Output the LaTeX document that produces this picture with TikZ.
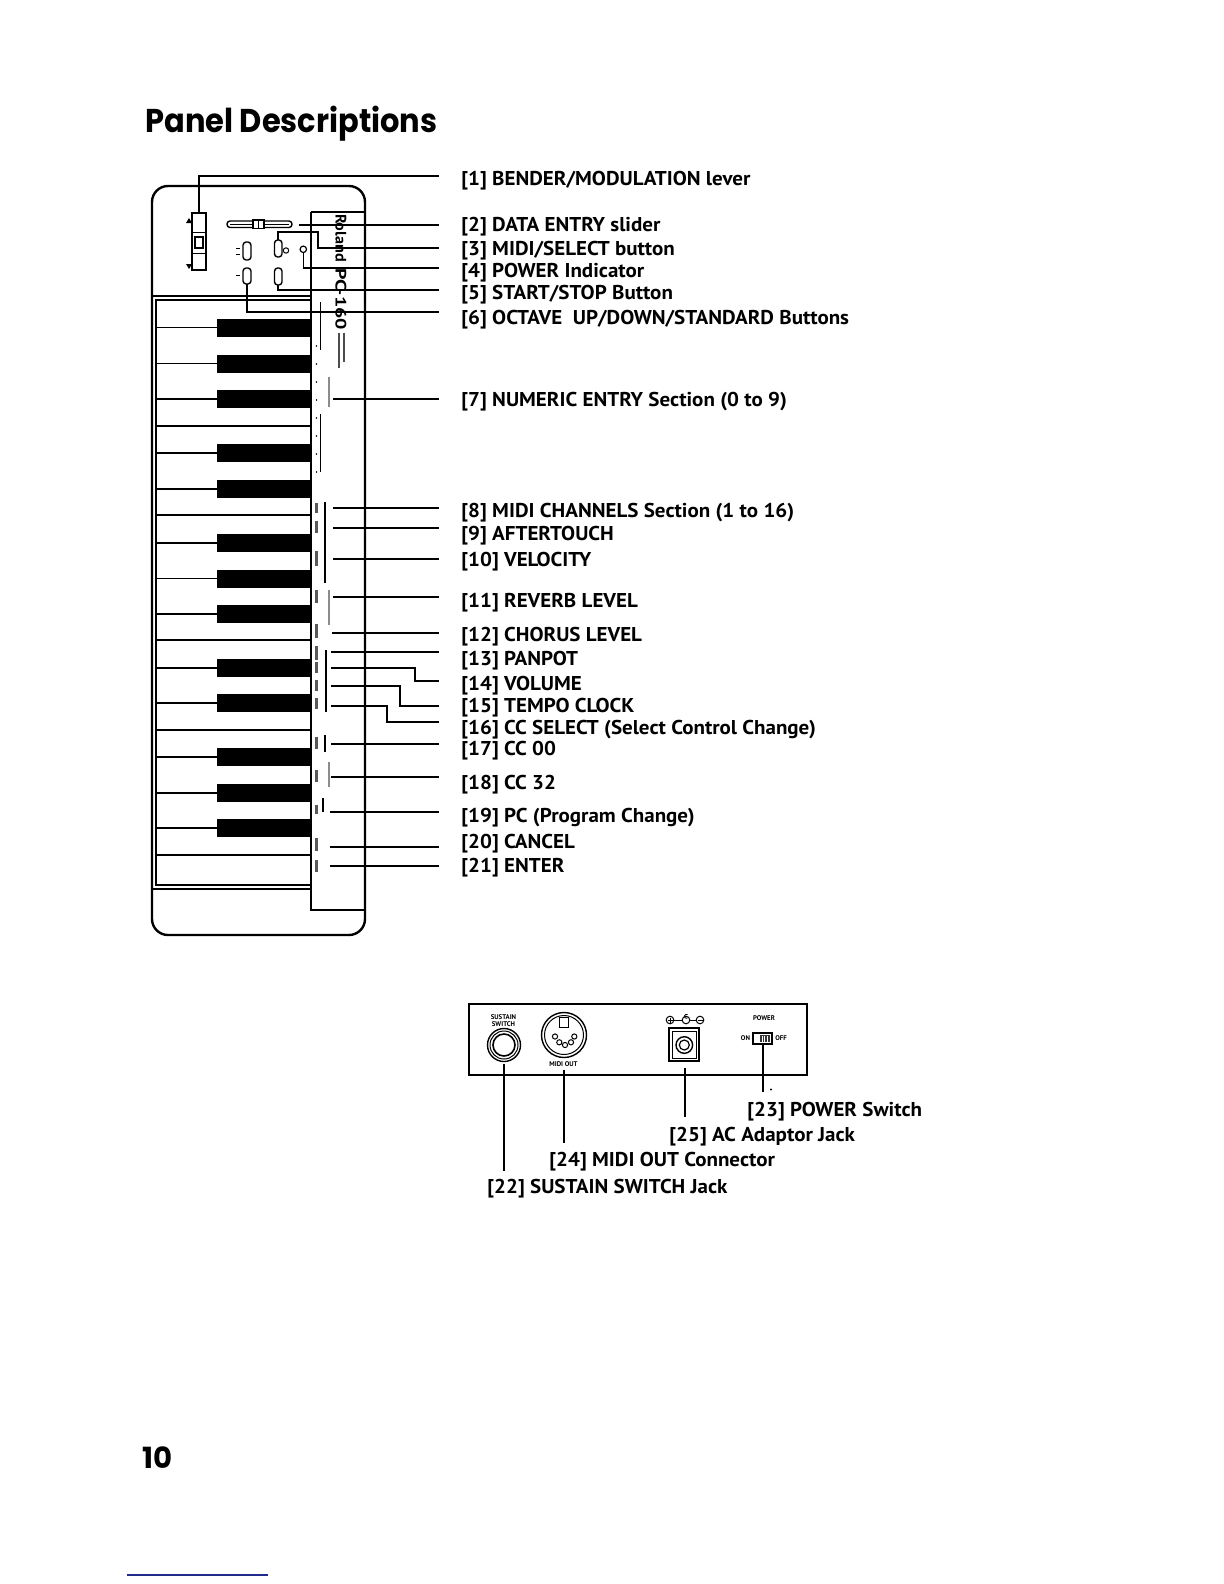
\documentclass[tikz,border=0pt]{standalone}
\usepackage{graphicx}
\usepackage{fontspec}
\setmainfont{PT Sans}
\newfontfamily\titlefont{Poppins}
\newcommand\lblfont{\bfseries\fontsize{10pt}{11pt}\selectfont}
\newcommand\lb[1]{\scalebox{1.05}[1]{\lblfont #1}}
\newcommand\tinyfont{\bfseries\fontsize{3.4pt}{4pt}\selectfont}
\definecolor{navy}{HTML}{1F2A8A}
\begin{document}
\begin{tikzpicture}[x=0.5pt,y=-0.5pt,line join=miter,
  lead/.style={line width=0.6pt},
  bodyline/.style={line width=1.2pt},
  thinline/.style={line width=0.7pt},
  lbl/.style={anchor=base west,inner sep=0pt},
  tiny/.style={inner sep=0pt,font=\tinyfont},
  bkey/.style={fill=black,draw=none},
  stripmark/.style={fill=black!65,draw=none},
  btn/.style={line width=0.7pt,rounded corners=1.6pt}]
\useasboundingbox (0,0) rectangle (1224,1584);
% title
\node[anchor=base west,inner sep=0pt] (title) at (145,133) {\resizebox{146pt}{13.2pt}{\titlefont\bfseries Panel Descriptions}};
% page number
\node[anchor=base west,inner sep=0pt] (pagenum) at (142,1468) {\resizebox{15pt}{!}{\titlefont\bfseries 10}};
\draw[navy,line width=0.8pt] (127,1575) -- (268,1575);

% ---------------- keyboard body ----------------
\draw[bodyline,rounded corners=8pt] (152,186) rectangle (365,935);
% control strip
\draw[thinline] (311,212) -- (365,212);
\draw[thinline] (311,212) -- (311,910) -- (365,910);
% keyboard frame
\draw[thinline] (152,296) -- (311,296);
\draw[thinline] (156,300) rectangle (311,885);
\draw[thinline] (152,889) -- (311,889);
% white key full lines
\foreach \y in {426,515,640,730,855} \draw[thinline] (156,\y) -- (311,\y);
% black keys
\foreach \c in {327.5,363.5,399,453,489,543,578.5,614,668,703,757,793,828}{
  \fill[bkey] (217,\c-9) rectangle (311,\c+9);
  \draw[thinline] (156,\c) -- (217,\c);
}
% lever
\draw[thinline] (192,213) rectangle (206,270);
\draw[thinline] (195,237) rectangle (203,248);
\draw[line width=0.4pt] (192,232) -- (206,232) (192,253) -- (206,253);
\fill (186,223) -- (192,223) -- (189,218) -- cycle;
\fill (186,264) -- (192,264) -- (189,269) -- cycle;
% slider
\draw[thinline,rounded corners=1.5pt] (227,221) rectangle (292,227.5);
\draw[line width=0.4pt] (230,224.2) -- (289,224.2);
\draw[thinline,fill=white] (253,220) rectangle (264,228.5);
\draw[line width=0.4pt] (258.5,220) -- (258.5,228.5);
% octave buttons
\draw[btn] (243,242) rectangle (251,260);
\draw[btn] (243,268) rectangle (251,284);
\draw[line width=0.4pt] (236,248) -- (240,248) (236,254) -- (240,254) (236,275) -- (240,275);
% midi/select + start/stop buttons
\draw[btn] (274.5,240) rectangle (282,257);
\draw[btn] (274.5,268) rectangle (282,285);
\draw[line width=0.5pt] (286,250.5) circle (2.7);
% power LED
\draw[line width=0.6pt] (303.3,249.3) circle (3.2);
% strip lettering
\node[inner sep=0pt,rotate=-90] (roland) at (341,238) {\resizebox{24pt}{5.4pt}{\bfseries Roland}};
\node[inner sep=0pt,rotate=-90] (model) at (341,299) {\resizebox{31pt}{5.4pt}{\bfseries PC-160}};
\fill[black!70] (337.5,333) rectangle (340,368);
\fill[black!70] (342.5,333) rectangle (345,362);
% strip markings
\draw[line width=0.5pt] (320,302) -- (320,350) (320,414) -- (320,472);
\foreach \y in {346,364,382,400,418,436,454,472} \fill (316.5,\y) circle (0.9);
\draw[line width=0.6pt] (325,502) -- (325,583) (326,650) -- (326,712) (325,735) -- (325,752) (323,798) -- (323,812);
\foreach \a/\b in {503/513,521/533,551/566,590/603,624/638,646/660,662/673,680/691,698/709,737/749,770/782,805/814,838/851,860/872}
  \fill[stripmark] (314.5,\a) rectangle (317.5,\b);
\foreach \a/\b in {377/407,590/625,762/787}
  \fill[black!45] (327.5,\a) rectangle (329.5,\b);

% ---------------- component anchors ----------------
\coordinate (c1) at (199,213);
\coordinate (c2) at (299,225);
\coordinate (c3) at (278,240);
\coordinate (c4) at (303.3,252.5);
\coordinate (c5) at (278,285);
\coordinate (c6) at (247,284);
\coordinate (c7) at (333,399);
\coordinate (c8) at (333,508);
\coordinate (c9) at (333,528);
\coordinate (c10) at (333,559);
\coordinate (c11) at (333,597);
\coordinate (c12) at (332,633);
\coordinate (c13) at (331,652);
\coordinate (c14) at (331,668);
\coordinate (c15) at (331,686);
\coordinate (c16) at (331,706);
\coordinate (c17) at (331,744);
\coordinate (c18) at (331,777);
\coordinate (c19) at (330,812);
\coordinate (c20) at (330,847);
\coordinate (c21) at (330,866);
% leader ends
\foreach \n/\y in {1/176,2/225,3/248,4/268,5/290,6/312,7/399,8/508,9/528,10/559,11/597,12/633,13/652,14/681,15/706,16/722,17/744,18/777,19/812,20/847,21/866}
  \coordinate (e\n) at (439,\y);

% ---------------- leaders ----------------
\draw[lead] (c1) |- (e1);
\draw[lead] (c2) -- (e2);
\draw[lead] (c3) |- (318,232) |- (e3);
\draw[lead] (c4) |- (e4);
\draw[lead] (c5) |- (e5);
\draw[lead] (c6) |- (e6);
\foreach \n in {7,8,9,10,11,12,13,17,18,19,20,21} \draw[lead] (c\n) -- (e\n);
\draw[lead] (c14) -| (415,681) -- (e14);
\draw[lead] (c15) -| (400,706) -- (e15);
\draw[lead] (c16) -| (387,722) -- (e16);

% ---------------- labels ----------------
\node[lbl] (l1) at (461,185) {\lb{[1] BENDER/MODULATION lever}};
\node[lbl] (l2) at (461,231) {\lb{[2] DATA ENTRY slider}};
\node[lbl] (l3) at (461,255) {\lb{[3] MIDI/SELECT button}};
\node[lbl] (l4) at (461,277) {\lb{[4] POWER Indicator}};
\node[lbl] (l5) at (461,299) {\lb{[5] START/STOP Button}};
\node[lbl] (l6) at (461,324) {\lb{[6] OCTAVE\ \ UP/DOWN/STANDARD Buttons}};
\node[lbl] (l7) at (461,406) {\lb{[7] NUMERIC ENTRY Section (0 to 9)}};
\node[lbl] (l8) at (461,517) {\lb{[8] MIDI CHANNELS Section (1 to 16)}};
\node[lbl] (l9) at (461,540) {\lb{[9] AFTERTOUCH}};
\node[lbl] (l10) at (461,566) {\lb{[10] VELOCITY}};
\node[lbl] (l11) at (461,607) {\lb{[11] REVERB LEVEL}};
\node[lbl] (l12) at (461,641) {\lb{[12] CHORUS LEVEL}};
\node[lbl] (l13) at (461,665) {\lb{[13] PANPOT}};
\node[lbl] (l14) at (461,690) {\lb{[14] VOLUME}};
\node[lbl] (l15) at (461,712) {\lb{[15] TEMPO CLOCK}};
\node[lbl] (l16) at (461,734) {\lb{[16] CC SELECT (Select Control Change)}};
\node[lbl] (l17) at (461,755) {\lb{[17] CC 00}};
\node[lbl] (l18) at (461,789) {\lb{[18] CC 32}};
\node[lbl] (l19) at (461,822) {\lb{[19] PC (Program Change)}};
\node[lbl] (l20) at (461,848) {\lb{[20] CANCEL}};
\node[lbl] (l21) at (461,872) {\lb{[21] ENTER}};

% ---------------- rear panel ----------------
\draw[line width=1.3pt] (469,1004) rectangle (807,1075);
% sustain jack
\node[tiny] (sus1) at (503.5,1017.5) {SUSTAIN};
\node[tiny] (sus2) at (503.5,1024.5) {SWITCH};
\draw[line width=0.7pt] (504,1045) circle (16.5);
\draw[line width=0.5pt] (504,1045) circle (14);
\draw[line width=0.8pt] (504,1045) circle (11);
% midi out
\draw[line width=0.7pt] (564,1035) circle (22.5);
\draw[line width=0.5pt] (564,1035) circle (19.5);
\draw[line width=0.5pt,fill=white] (559.5,1017) rectangle (568.5,1027);
\foreach \px/\py in {555/1036.5,559.3/1042.3,565/1045,571/1042.3,574.3/1036.5}
  \draw[line width=0.5pt] (\px,\py) circle (2.6);
\node[tiny] (midiout) at (563.5,1064) {MIDI OUT};
% DC jack
\draw[line width=0.5pt] (670,1020) -- (700,1020);
\draw[line width=0.5pt,fill=white] (670,1020) circle (3.8) (686,1020) circle (3.8) (700,1020) circle (3.8);
\draw[line width=0.4pt] (667.5,1020) -- (672.5,1020) (670,1017.5) -- (670,1022.5);
\draw[line width=0.4pt] (697.5,1020) -- (702.5,1020);
\draw[line width=0.4pt] (687.5,1018) arc (60:300:2) ;
\draw[line width=1pt] (669,1028) rectangle (699,1061);
\draw[line width=0.4pt] (672,1031) rectangle (696,1058);
\draw[line width=0.7pt] (684.3,1045) circle (8.3);
\draw[line width=0.6pt] (684.3,1045) circle (5);
% power switch
\node[tiny] (pwr) at (764,1018.5) {POWER};
\node[tiny] (on) at (745.5,1038.5) {ON};
\node[tiny] (off) at (781,1038.5) {OFF};
\draw[line width=0.8pt] (753,1033) rectangle (772,1044);
\fill[black!80] (760,1035) rectangle (770,1042);
\foreach \xx in {762,764.5,767} \draw[white,line width=0.3pt] (\xx,1035.5) -- (\xx,1041.5);
% rear anchors and leaders
\coordinate (r22) at (504,1064);
\coordinate (r24) at (564,1070);
\coordinate (r25) at (685,1068);
\coordinate (r23) at (763,1045);
\coordinate (f22) at (504,1171);
\coordinate (f24) at (564,1143);
\coordinate (f25) at (685,1117);
\coordinate (f23) at (763,1092);
\draw[lead] (r22) -- (f22);
\draw[lead] (r24) -- (f24);
\draw[lead] (r25) -- (f25);
\draw[lead] (r23) -- (f23);
\fill (771,1089.5) circle (1.1);
\node[lbl] (l23) at (747,1116) {\lb{[23] POWER Switch}};
\node[lbl] (l25) at (669,1141) {\lb{[25] AC Adaptor Jack}};
\node[lbl] (l24) at (549,1166) {\lb{[24] MIDI OUT Connector}};
\node[lbl] (l22) at (487,1193) {\lb{[22] SUSTAIN SWITCH Jack}};
\end{tikzpicture}
\end{document}
